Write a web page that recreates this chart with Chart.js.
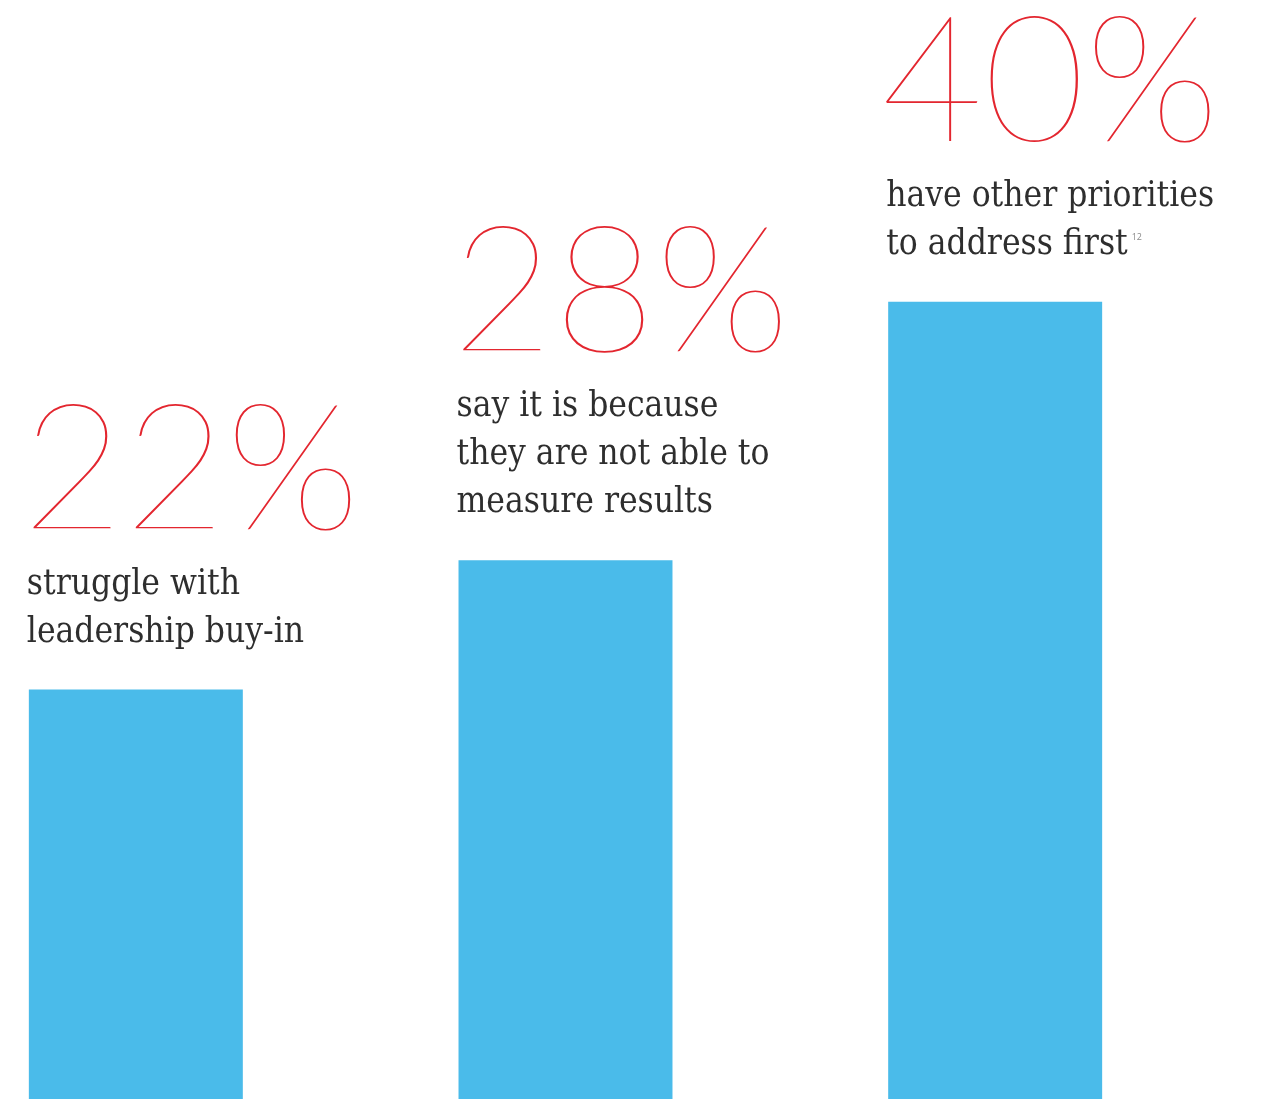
<!DOCTYPE html>
<html lang="en">
<head>
    <meta charset="UTF-8">
    <title>Why organisations hold back</title>
    <style>
        body {
            margin: 0;
            background-color: #ffffff;
            overflow: hidden;
        }
        /* wrapper is a little wider than the window so the bars land where the original has them */
        #wrap {
            position: absolute;
            left: -79px;
            top: 0;
            width: 1369px;
            height: 1099px;
        }
    </style>
</head>
<body>
    <div id="wrap">
        <canvas id="barChart"></canvas>
    </div>

    <script src="https://cdn.jsdelivr.net/npm/chart.js"></script>
    <script>
        // chart data
        const categories = ['Leadership buy-in', 'Measuring results', 'Other priorities'];
        const percentValues = [22, 28, 40];
        const captions = [
            ['struggle with', 'leadership buy-in'],
            ['say it is because', 'they are not able to', 'measure results'],
            ['have other priorities', 'to address first']
        ];
        const footnotes = ['', '', '12'];

        const barBlue = '#4abbea';
        const numberRed = '#e3262f';
        const captionGrey = '#2e2e2e';

        // draws the big percentage and the caption above every bar
        const captionPlugin = {
            id: 'captions',
            afterDatasetsDraw(chart) {
                const ctx = chart.ctx;
                const bars = chart.getDatasetMeta(0).data;
                ctx.save();
                ctx.textBaseline = 'alphabetic';
                ctx.textAlign = 'left';
                bars.forEach((bar, i) => {
                    const left = bar.x - bar.width / 2;
                    const lines = captions[i];
                    const lineGap = 48;
                    const firstBase = bar.y - lineGap * lines.length;

                    ctx.font = '35px "DejaVu Serif Condensed", "DejaVu Serif", serif';
                    ctx.fillStyle = captionGrey;
                    lines.forEach((line, j) => {
                        ctx.fillText(line, left - 2, firstBase + j * lineGap);
                    });

                    if (footnotes[i]) {
                        const last = lines[lines.length - 1];
                        const w = ctx.measureText(last).width;
                        ctx.font = '9px "Open Sans", sans-serif';
                        ctx.fillStyle = '#8a8a8a';
                        ctx.fillText(footnotes[i], left + w + 2, firstBase + (lines.length - 1) * lineGap - 14);
                    }

                    ctx.font = '100 176px Lato, sans-serif';
                    ctx.fillStyle = numberRed;
                    ctx.fillText(percentValues[i] + '%', left - 7, firstBase - 65);
                });
                ctx.restore();
            }
        };

        const ctx = document.getElementById('barChart').getContext('2d');
        const barChart = new Chart(ctx, {
            type: 'bar',
            data: {
                labels: categories,
                datasets: [{
                    data: percentValues,
                    backgroundColor: barBlue,
                    borderWidth: 0,
                    categoryPercentage: 1,
                    barPercentage: 0.498
                }]
            },
            options: {
                responsive: true,
                maintainAspectRatio: false,
                animation: false,
                // extra room on the right only for the caption text
                layout: { padding: { left: 0, top: 0, bottom: 0, right: 80 } },
                plugins: {
                    legend: { display: false },
                    tooltip: { enabled: false }
                },
                scales: {
                    x: { display: false },
                    // the original bars are not drawn from zero, this range follows their heights
                    y: { display: false, min: 3, max: 54 }
                }
            },
            plugins: [captionPlugin]
        });
    </script>
</body>
</html>
